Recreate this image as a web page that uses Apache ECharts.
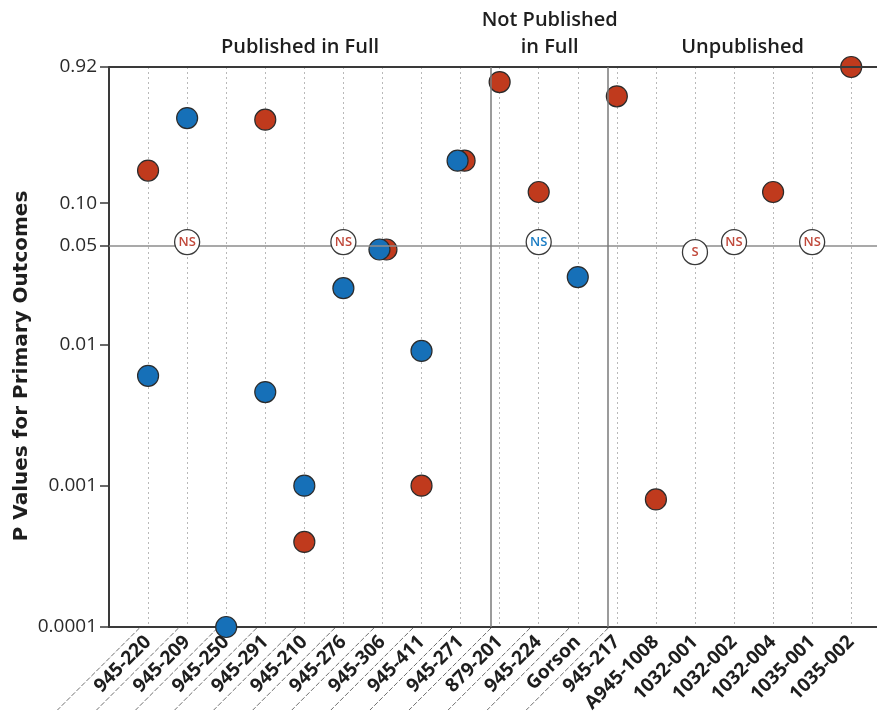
<!DOCTYPE html>
<html>
<head>
<meta charset="utf-8">
<script src="https://cdn.jsdelivr.net/npm/echarts@6/dist/echarts.min.js"></script>
<style>
  html, body { margin: 0; padding: 0; background: #fff; }
  #chart { width: 877px; height: 722px; }
</style>
</head>
<body>
<div id="chart"></div>
<script>
// Trial identifiers along the bottom axis
const categories = [
  '945-220', '945-209', '945-250', '945-291', '945-210', '945-276', '945-306',
  '945-411', '945-271', '879-201', '945-224', 'Gorson', '945-217', 'A945-1008',
  '1032-001', '1032-002', '1032-004', '1035-001', '1035-002'
];

// P values for the primary outcomes (red and blue markers); null = none
const redValues = [
  0.17, null, null, 0.39, 0.0004, null, 0.047, 0.001, 0.2, 0.72,
  0.12, null, 0.57, 0.0008, null, null, 0.12, null, 0.92
];
const blueValues = [
  0.006, 0.4, 0.0001, 0.0046, 0.001, 0.025, 0.047, 0.009, 0.2, null,
  null, 0.03, null, null, null, null, null, null, null
];

// Significance badges (NS = not significant, S = significant)
const badgeText = [
  null, 'NS', null, null, null, 'NS', null, null, null, null,
  'NS', null, null, null, 'S', 'NS', null, 'NS', null
];
const badgeTone = [
  null, 'red', null, null, null, 'red', null, null, null, null,
  'blue', null, null, null, 'red', 'red', null, 'red', null
];
const badgeValues = [
  null, 0.053, null, null, null, 0.053, null, null, null, null,
  0.053, null, null, null, 0.045, 0.053, null, 0.053, null
];

// Y-axis tick labels
const yTicks = [0.0001, 0.001, 0.01, 0.05, 0.10, 0.92];
const yTickLabels = ['0.0001', '0.001', '0.01', '0.05', '0.10', '0.92'];

// Publication groups and the first trial of each
const groupNames = ['Published in Full', 'Not Published\nin Full', 'Unpublished'];
const groupStarts = [0, 9, 12];

const Y_MIN = 0.0001, Y_MAX = 0.92;
const X_MIN = -1, X_MAX = 18.66;
const BOUNDARY_SHIFT = 0.22;

const RED = '#c03a1d';
const BLUE = '#1670b8';
const EDGE = '#2b2b2b';

const redData = [], blueData = [];
categories.forEach((c, i) => {
  const both = redValues[i] != null && blueValues[i] != null && redValues[i] === blueValues[i];
  if (redValues[i] != null) {
    redData.push({ value: [i, redValues[i]], symbolOffset: both ? [4, 0] : [0, 0] });
  }
  if (blueValues[i] != null) {
    blueData.push({ value: [i, blueValues[i]], symbolOffset: both ? [-3, 0] : [0, 0] });
  }
});

const badgeData = [];
categories.forEach((c, i) => {
  if (badgeText[i]) {
    badgeData.push({
      value: [i, badgeValues[i]],
      label: {
        formatter: badgeText[i],
        color: badgeTone[i] === 'blue' ? '#1a7cc4' : '#c0483a'
      }
    });
  }
});

// Boundaries (in axis units) separating the groups
const groupBounds = groupStarts.map(s => s === 0 ? X_MIN : s - BOUNDARY_SHIFT).concat([X_MAX]);
const markAreas = groupNames.map((name, k) => [
  { xAxis: groupBounds[k], yAxis: Y_MAX, name: name },
  { xAxis: groupBounds[k + 1], yAxis: Y_MIN }
]);

// Dashed diagonal dividers under the labels of the published / not-fully-published trials
const dividerData = categories.slice(0, groupStarts[2] + 1).map((c, i) => [i - BOUNDARY_SHIFT, Y_MIN]);

const chart = echarts.init(document.getElementById('chart'));

chart.setOption({
  animation: false,
  backgroundColor: '#fff',
  grid: { left: 109, right: 0, top: 67, bottom: 95, containLabel: false },
  xAxis: {
    type: 'value',
    min: X_MIN,
    max: X_MAX,
    interval: 1,
    axisLine: { show: true, onZero: false, lineStyle: { color: '#3a3a3a', width: 2 } },
    axisTick: { show: false },
    splitLine: { show: true, lineStyle: { color: '#b9b9b9', type: [2, 3], width: 1 } },
    axisLabel: {
      rotate: 45,
      margin: 12,
      fontFamily: 'Open Sans',
      fontWeight: 700,
      fontSize: 19,
      color: '#1e1e1e',
      showMinLabel: false,
      showMaxLabel: false,
      formatter: v => (Number.isInteger(v) && categories[v]) ? categories[v] : ''
    }
  },
  yAxis: {
    type: 'log',
    logBase: 10,
    min: Y_MIN,
    max: Y_MAX,
    axisLine: { show: true, onZero: false, lineStyle: { color: '#3a3a3a', width: 2 } },
    axisTick: { show: true, length: 9, customValues: yTicks, lineStyle: { color: '#3a3a3a', width: 1.5 } },
    splitLine: { show: false },
    axisLabel: {
      customValues: yTicks,
      margin: 12,
      fontFamily: 'Open Sans',
      fontSize: 19,
      color: '#2a2a2a',
      formatter: v => {
        const k = yTicks.findIndex(t => Math.abs(Math.log10(t) - Math.log10(v)) < 1e-6);
        return k >= 0 ? yTickLabels[k] : '';
      }
    }
  },
  graphic: [{
    type: 'text',
    x: 22,
    y: 366,
    rotation: Math.PI / 2,
    style: {
      text: 'P Values for Primary Outcomes',
      font: 'bold 20px "DejaVu Sans", sans-serif',
      fill: '#1e1e1e',
      textAlign: 'center',
      textVerticalAlign: 'middle'
    }
  }],
  series: [
    {
      type: 'custom',
      silent: true,
      clip: false,
      z: 1,
      data: dividerData,
      renderItem: (params, api) => {
        const p = api.coord([api.value(0), api.value(1)]);
        const L = 82;
        return {
          type: 'line',
          shape: { x1: p[0], y1: p[1] + 1, x2: p[0] - L, y2: p[1] + 1 + L },
          style: { stroke: '#6f6f6f', lineWidth: 1, lineDash: [5, 2] }
        };
      }
    },
    {
      type: 'scatter',
      name: 'guides',
      data: [],
      silent: true,
      markLine: {
        silent: true,
        symbol: 'none',
        label: { show: false },
        data: [
          { yAxis: Y_MAX, lineStyle: { color: '#3a3a3a', width: 2, type: 'solid' } },
          { yAxis: 0.05, lineStyle: { color: '#8c8c8c', width: 1.5, type: 'solid' } },
          { xAxis: groupStarts[1] - BOUNDARY_SHIFT, lineStyle: { color: '#7a7a7a', width: 1.5, type: 'solid' } },
          { xAxis: groupStarts[2] - BOUNDARY_SHIFT, lineStyle: { color: '#7a7a7a', width: 1.5, type: 'solid' } }
        ]
      },
      markArea: {
        silent: true,
        itemStyle: { color: 'rgba(0,0,0,0)' },
        label: {
          show: true,
          position: 'top',
          distance: 6,
          fontFamily: 'Open Sans',
          fontWeight: 600,
          fontSize: 20,
          lineHeight: 27,
          color: '#1e1e1e',
          align: 'center'
        },
        data: markAreas
      }
    },
    {
      type: 'scatter',
      name: 'red',
      z: 3,
      symbolSize: 21,
      itemStyle: { color: RED, borderColor: EDGE, borderWidth: 1.2, opacity: 1 },
      data: redData
    },
    {
      type: 'scatter',
      name: 'blue',
      z: 4,
      symbolSize: 21,
      itemStyle: { color: BLUE, borderColor: EDGE, borderWidth: 1.2, opacity: 1 },
      data: blueData
    },
    {
      type: 'scatter',
      name: 'badges',
      z: 5,
      symbolSize: 25,
      itemStyle: { color: '#ffffff', borderColor: '#3a3a3a', borderWidth: 1.3, opacity: 1 },
      label: {
        show: true,
        position: 'inside',
        fontFamily: 'Open Sans',
        fontWeight: 600,
        fontSize: 13
      },
      data: badgeData
    }
  ]
});
</script>
</body>
</html>
